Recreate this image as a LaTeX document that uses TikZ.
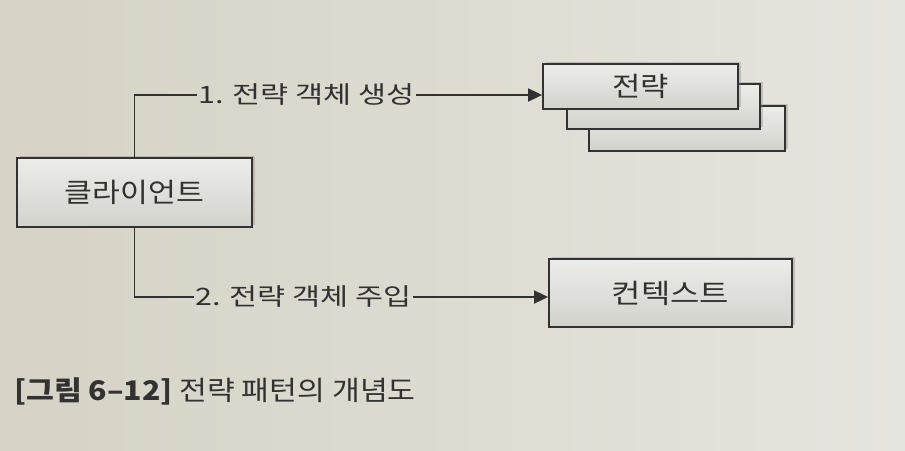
\documentclass[tikz,border=0pt]{standalone}
\usepackage{graphicx}
\usepackage{fontspec}
\setmainfont{Noto Sans CJK KR}
\usetikzlibrary{shadows,arrows.meta,calc}
\definecolor{paperL}{RGB}{214,210,197}
\definecolor{paperR}{RGB}{229,229,223}
\definecolor{inkc}{RGB}{50,50,50}
\definecolor{boxT}{RGB}{236,236,233}
\definecolor{boxB}{RGB}{210,210,205}
\newcommand{\wideK}[2]{\scalebox{#1}[1]{#2}}
\tikzset{
  boxstyle/.style={draw=inkc, line width=1.8pt, top color=boxT, bottom color=boxB,
    inner sep=0pt, font=\fontsize{27}{30}\selectfont, text=inkc,
    drop shadow={shadow xshift=2.5pt, shadow yshift=2.5pt, opacity=0.35}},
  lablstyle/.style={inner sep=1pt, font=\fontsize{24}{27}\selectfont, text=inkc},
  conn/.style={draw=inkc, line width=1.8pt},
  arr/.style={conn, -{Triangle[length=14pt,width=13pt]}}
}
\begin{document}
\begin{tikzpicture}[x=1pt,y=-1pt]
\shade[left color=paperL, right color=paperR] (0,0) rectangle (905,450);
\useasboundingbox (0,0) rectangle (905,450);
% strategy stack (back to front)
\node[boxstyle, minimum width=196pt, minimum height=45pt] (strat3) at (687,128.5) {};
\node[boxstyle, minimum width=193pt, minimum height=45pt] (strat2) at (663.5,106.5) {};
\node[boxstyle, minimum width=195pt, minimum height=45pt] (strat) at (640.5,86.5) {\wideK{1.14}{전략}};
% context
\node[boxstyle, minimum width=243pt, minimum height=68pt] (ctx) at (670.5,293) {\wideK{1.18}{컨텍스트}};
% client
\node[boxstyle, minimum width=235pt, minimum height=69pt] (client) at (134.5,192.5) {\wideK{1.12}{클라이언트}};
% labels
\node[lablstyle] (lab1) at (306.5,95) {\wideK{1.27}{1. 전략 객체 생성}};
\node[lablstyle] (lab2) at (303.5,297) {\wideK{1.27}{2. 전략 객체 주입}};
% connectors
\draw[conn] (client.north) |- (lab1.west);
\draw[arr] (lab1.east) -- (lab1.east -| strat.west);
\draw[conn] (client.south) |- (lab2.west);
\draw[arr] (lab2.east) -- (lab2.east -| ctx.west);
% caption
\node[anchor=west, inner sep=0pt, text=inkc, font=\fontsize{27}{30}\selectfont] (cap) at (14,391)
  {\wideK{1.12}{\textbf{[그림 6–12]} 전략 패턴의 개념도}};
\end{tikzpicture}
\end{document}
